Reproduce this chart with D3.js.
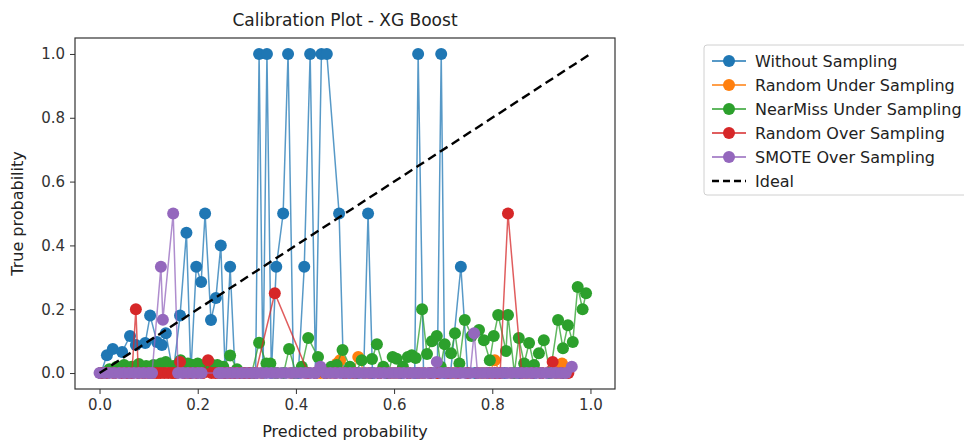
<!DOCTYPE html>
<html>
<head>
<meta charset="UTF-8">
<title>Calibration Plot - XG Boost</title>
<script src="https://cdn.jsdelivr.net/npm/d3@7"></script>
<style>
  body { margin: 0; background: #fff; }
  svg { font-family: "DejaVu Sans", sans-serif; }
</style>
</head>
<body>
<svg id="chart" width="964" height="441"></svg>
<script>
// values: [mean predicted, fraction of positives]
var withoutSampling = [
  [0.003,0],[0.015,0.056],[0.027,0.075],[0.046,0.066],[0.062,0.116],[0.074,0.088],
  [0.093,0.094],[0.103,0.18],[0.117,0.097],[0.127,0.088],[0.135,0.125],[0.15,0],
  [0.164,0.18],[0.177,0.44],[0.186,0],[0.197,0.333],[0.207,0.285],[0.215,0.5],
  [0.227,0.166],[0.237,0.235],[0.247,0.4],[0.256,0],[0.266,0.333],[0.276,0],
  [0.29,0],[0.305,0],[0.318,0],[0.325,1],[0.333,0],[0.341,1],[0.35,0],
  [0.36,0.333],[0.374,0.5],[0.384,1],[0.395,0],[0.405,0],[0.417,0.333],[0.429,1],
  [0.44,0],[0.452,1],[0.463,1],[0.488,0.5],[0.497,0],[0.51,0],[0.525,0],[0.538,0],
  [0.547,0.5],[0.556,0],[0.57,0],[0.585,0],[0.6,0],[0.615,0],[0.63,0],[0.642,0],
  [0.649,1],[0.66,0],[0.675,0],[0.688,0],[0.696,1],[0.703,0],[0.715,0],[0.736,0.333],
  [0.75,0],[0.765,0],[0.78,0],[0.795,0],[0.81,0],[0.825,0],[0.84,0],[0.855,0],
  [0.87,0],[0.885,0],[0.9,0],[0.915,0],[0.93,0],[0.945,0]
];
var randomUnder = [
  [0.003,0],[0.03,0],[0.06,0],[0.09,0],[0.12,0],[0.15,0],[0.18,0],[0.21,0],[0.24,0],
  [0.27,0],[0.3,0],[0.33,0],[0.36,0],[0.39,0],[0.42,0],[0.45,0],[0.47,0],
  [0.484,0.03],[0.49,0.04],[0.5,0],[0.515,0],[0.527,0.05],[0.54,0],[0.57,0],[0.6,0],
  [0.63,0],[0.66,0],[0.69,0],[0.72,0],[0.75,0],[0.78,0],[0.795,0],[0.805,0.04],
  [0.815,0],[0.84,0],[0.87,0],[0.9,0],[0.93,0],[0.942,0.03],[0.952,0]
];
var nearMissUnder = [
  [0.003,0],[0.02,0.012],[0.035,0.02],[0.05,0.025],[0.065,0.02],[0.08,0.028],
  [0.095,0.022],[0.11,0.025],[0.125,0.03],[0.135,0.035],[0.15,0.022],[0.165,0.04],
  [0.18,0.03],[0.19,0.025],[0.2,0.03],[0.212,0.022],[0.225,0.03],[0.24,0.025],
  [0.252,0.02],[0.266,0.055],[0.28,0.012],[0.295,0],[0.31,0],[0.325,0.095],
  [0.34,0.03],[0.348,0.03],[0.36,0],[0.375,0],[0.386,0.075],[0.4,0],[0.412,0.02],
  [0.425,0.11],[0.445,0.05],[0.46,0],[0.472,0.02],[0.483,0.025],[0.495,0.072],
  [0.51,0.02],[0.522,0],[0.534,0.04],[0.555,0.044],[0.565,0.09],[0.578,0.02],
  [0.588,0],[0.597,0.05],[0.605,0.045],[0.618,0.02],[0.628,0.05],[0.636,0.056],
  [0.644,0.047],[0.657,0.2],[0.667,0.06],[0.677,0.1],[0.687,0.116],[0.695,0.02],
  [0.703,0.09],[0.716,0.062],[0.724,0.125],[0.733,0.03],[0.744,0.166],[0.758,0.116],
  [0.773,0.135],[0.783,0.103],[0.795,0.04],[0.803,0.116],[0.812,0.182],[0.828,0.069],
  [0.832,0.182],[0.845,0],[0.854,0.11],[0.865,0.03],[0.875,0.094],[0.885,0.025],
  [0.895,0.062],[0.905,0.103],[0.918,0],[0.934,0.166],[0.944,0.078],[0.954,0.15],
  [0.964,0.097],[0.974,0.27],[0.984,0.2],[0.991,0.25]
];
var randomOver = [
  [0.003,0],[0.015,0],[0.03,0],[0.045,0],[0.056,0],[0.066,0],[0.074,0.2],[0.079,0],
  [0.09,0],[0.1,0],[0.108,0],[0.116,0],[0.124,0],[0.132,0],[0.14,0],[0.148,0],
  [0.156,0],[0.164,0.035],[0.172,0],[0.185,0],[0.198,0],[0.21,0],[0.221,0.04],
  [0.228,0],[0.236,0],[0.244,0],[0.252,0],[0.26,0],[0.268,0],[0.276,0],[0.285,0],
  [0.295,0],[0.305,0],[0.318,0],[0.357,0.25],[0.425,0],[0.44,0],[0.46,0],[0.48,0],
  [0.5,0],[0.52,0],[0.55,0],[0.57,0],[0.59,0],[0.61,0],[0.63,0],[0.65,0],[0.673,0],
  [0.69,0],[0.71,0],[0.73,0],[0.75,0],[0.77,0],[0.79,0],[0.805,0],[0.816,0],
  [0.832,0.5],[0.86,0],[0.88,0],[0.9,0],[0.923,0.035],[0.94,0],[0.955,0]
];
var smoteOver = [
  [0.0,0],[0.01,0],[0.02,0],[0.03,0],[0.04,0],[0.05,0],[0.06,0],[0.07,0],[0.08,0],
  [0.09,0],[0.1,0],[0.107,0],[0.125,0.333],[0.129,0.167],[0.15,0.5],[0.16,0],
  [0.17,0],[0.18,0],[0.19,0],[0.2,0],[0.208,0],[0.243,0],[0.25,0],[0.26,0],[0.27,0],
  [0.28,0],[0.29,0],[0.3,0],[0.31,0],[0.32,0],[0.33,0],[0.34,0],[0.35,0],[0.36,0],
  [0.37,0],[0.38,0],[0.39,0],[0.4,0],[0.41,0],[0.42,0],[0.43,0],[0.44,0],[0.45,0.02],
  [0.46,0],[0.47,0],[0.48,0],[0.49,0],[0.5,0],[0.51,0],[0.52,0],[0.53,0],[0.54,0],
  [0.55,0],[0.56,0],[0.57,0],[0.58,0],[0.59,0],[0.6,0],[0.61,0],[0.62,0],[0.63,0],
  [0.64,0],[0.65,0],[0.66,0],[0.67,0],[0.68,0],[0.687,0.035],[0.695,0],[0.705,0],
  [0.715,0],[0.725,0],[0.735,0],[0.745,0],[0.755,0],[0.763,0.125],[0.77,0],[0.78,0],
  [0.79,0],[0.8,0],[0.81,0],[0.82,0],[0.83,0],[0.84,0],[0.85,0],[0.86,0],[0.87,0],
  [0.88,0],[0.89,0],[0.9,0],[0.91,0],[0.92,0],[0.93,0],[0.94,0],[0.95,0],[0.962,0.02]
];
var ideal = [[0, 0], [1, 1]];

var seriesNames = ["Without Sampling", "Random Under Sampling", "NearMiss Under Sampling",
                   "Random Over Sampling", "SMOTE Over Sampling"];
var seriesColors = ["#1f77b4", "#ff7f0e", "#2ca02c", "#d62728", "#9467bd"];
var seriesData = [withoutSampling, randomUnder, nearMissUnder, randomOver, smoteOver];
var ticks = [0, 0.2, 0.4, 0.6, 0.8, 1.0];

var svg = d3.select("#chart");
var plotLeft = 75, plotRight = 615, plotTop = 38, plotBottom = 389;

var x = d3.scaleLinear().domain([-0.05, 1.05]).range([plotLeft, plotRight]);
var y = d3.scaleLinear().domain([-0.05, 1.05]).range([plotBottom, plotTop]);

var line = d3.line().x(function (d) { return x(d[0]); }).y(function (d) { return y(d[1]); });

var plot = svg.append("g");
seriesData.forEach(function (data, i) {
  var g = plot.append("g");
  g.append("path")
    .attr("d", line(data))
    .attr("fill", "none")
    .attr("stroke", seriesColors[i])
    .attr("stroke-width", 1.5)
    .attr("stroke-opacity", 0.75);
  g.selectAll("circle")
    .data(data)
    .enter()
    .append("circle")
    .attr("cx", function (d) { return x(d[0]); })
    .attr("cy", function (d) { return y(d[1]); })
    .attr("r", 6)
    .attr("fill", seriesColors[i]);
});

// ideal line on top
plot.append("path")
  .attr("d", line(ideal))
  .attr("fill", "none")
  .attr("stroke", "#000")
  .attr("stroke-width", 2.4)
  .attr("stroke-dasharray", "9,5");

// axes box
svg.append("rect")
  .attr("x", plotLeft).attr("y", plotTop)
  .attr("width", plotRight - plotLeft).attr("height", plotBottom - plotTop)
  .attr("fill", "none").attr("stroke", "#333").attr("stroke-width", 1.2);

var xAxis = svg.append("g")
  .attr("transform", "translate(0," + plotBottom + ")")
  .call(d3.axisBottom(x).tickValues(ticks).tickFormat(d3.format(".1f")).tickSize(5).tickPadding(5));
var yAxis = svg.append("g")
  .attr("transform", "translate(" + plotLeft + ",0)")
  .call(d3.axisLeft(y).tickValues(ticks).tickFormat(d3.format(".1f")).tickSize(5).tickPadding(5));
[xAxis, yAxis].forEach(function (a) {
  a.select(".domain").remove();
  a.selectAll("text").attr("font-size", 15).attr("fill", "#333").attr("font-family", "DejaVu Sans");
  a.selectAll("line").attr("stroke", "#333");
});

svg.append("text")
  .attr("x", (plotLeft + plotRight) / 2).attr("y", 26)
  .attr("text-anchor", "middle").attr("font-size", 17).attr("fill", "#222")
  .text("Calibration Plot - XG Boost");
svg.append("text")
  .attr("x", (plotLeft + plotRight) / 2).attr("y", 437)
  .attr("text-anchor", "middle").attr("font-size", 16).attr("fill", "#222")
  .text("Predicted probability");
svg.append("text")
  .attr("transform", "translate(23," + (plotTop + plotBottom) / 2 + ") rotate(-90)")
  .attr("text-anchor", "middle").attr("font-size", 16).attr("fill", "#222")
  .text("True probability");

// legend
var legend = svg.append("g").attr("transform", "translate(704,45)");
legend.append("rect")
  .attr("width", 280).attr("height", 150).attr("rx", 3)
  .attr("fill", "#fff").attr("stroke", "#d0d0d0");
var legendNames = seriesNames.concat(["Ideal"]);
legendNames.forEach(function (name, i) {
  var row = legend.append("g").attr("transform", "translate(0," + (16 + i * 24) + ")");
  if (i < seriesNames.length) {
    row.append("line").attr("x1", 8).attr("x2", 42).attr("y1", 0).attr("y2", 0)
      .attr("stroke", seriesColors[i]).attr("stroke-width", 1.5);
    row.append("circle").attr("cx", 25).attr("cy", 0).attr("r", 6).attr("fill", seriesColors[i]);
  } else {
    row.append("line").attr("x1", 8).attr("x2", 42).attr("y1", 0).attr("y2", 0)
      .attr("stroke", "#000").attr("stroke-width", 2.4).attr("stroke-dasharray", "7,4");
  }
  row.append("text").attr("x", 51).attr("y", 6)
    .attr("font-size", 16).attr("fill", "#222").text(name);
});
</script>
</body>
</html>
